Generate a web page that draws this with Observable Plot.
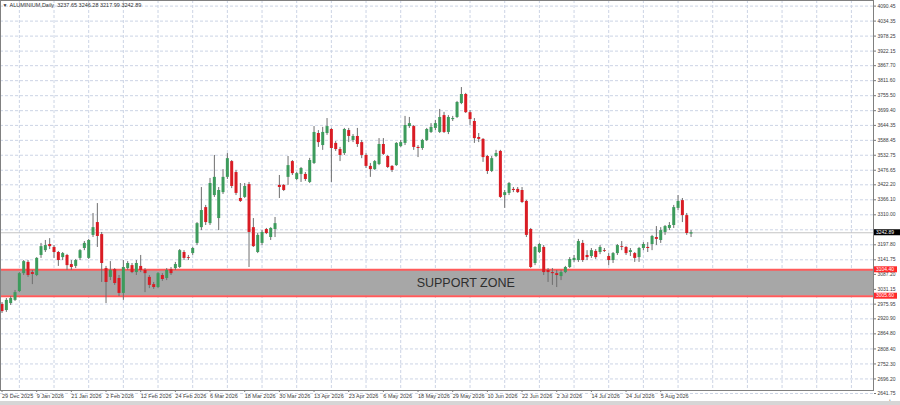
<!DOCTYPE html>
<html><head><meta charset="utf-8">
<script src="https://cdn.jsdelivr.net/npm/d3@7"></script>
<script src="https://cdn.jsdelivr.net/npm/@observablehq/plot@0.6"></script>
<style>body{margin:0;background:#fff;} #chart{width:900px;height:405px;overflow:hidden;position:relative}</style>
</head><body><div id="chart"></div>
<script>
const title = "ALUMINIUM,Daily  3237.65 3246.28 3217.99 3242.89";
const dateLabels = ["29 Dec 2025","9 Jan 2026","21 Jan 2026","2 Feb 2026","12 Feb 2026","24 Feb 2026","6 Mar 2026","18 Mar 2026","30 Mar 2026","13 Apr 2026","23 Apr 2026","6 May 2026","18 May 2026","29 May 2026","10 Jun 2026","22 Jun 2026","2 Jul 2026","14 Jul 2026","24 Jul 2026","5 Aug 2026"];
const dateTickBars = [0,8,16,24,32,40,48,56,64,72,80,88,96,104,112,120,128,136,144,152];
const gridBars = [4,12,20,28,36,44,52,60,68,76,84,92,100,108,116,124,132,140,148,156,164,172,180,188,196];
const yTicks = [4090.45,4034.35,3978.25,3922.15,3867.70,3811.60,3755.50,3699.40,3644.35,3588.45,3532.75,3476.65,3422.20,3366.10,3310.00,3253.85,3197.80,3141.75,3087.20,3031.15,2975.95,2920.90,2864.80,2808.40,2752.30,2696.20,2641.75];
const hiddenTick = 3253.85; // covered by the current-price box in the reference
const zoneTop = 3104.40;
const zoneBottom = 3005.60;
const lastPrice = 3242.89;
const zoneLabel = "SUPPORT ZONE";
const zoneLabelBar = 107;

const open = [
2975,2952,2978,2990,3023,3090,3132,3094,3083,3158,
3176,3199,3188,3169,3150,3158,3124,3117,3147,3184,
3147,3233,3281,3236,3109,3076,3105,3072,3016,3109,
3120,3094,3117,3102,3076,3049,3038,3083,3072,3105,
3109,3113,3169,3150,3165,3203,3262,3337,3277,3382,
3296,3393,3450,3509,3468,3371,3375,3423,3262,3169,
3203,3255,3225,3255,3420,3420,3450,3509,3442,3461,
3461,3431,3502,3614,3569,3614,3629,3577,3554,3539,
3625,3588,3603,3580,3532,3491,3479,3498,3573,3528,
3491,3494,3565,3577,3640,3640,3562,3558,3588,3618,
3633,3618,3681,3618,3666,3674,3726,3760,3692,3659,
3599,3592,3528,3472,3528,3547,3382,3390,3405,3405,
3401,3360,3255,3128,3169,3188,3102,3094,3090,3079,
3094,3113,3139,3139,3203,3158,3154,3173,3169,3176,
3154,3139,3165,3191,3188,3169,3165,3150,3184,3188,
3199,3225,3214,3244,3259,3270,3334,3363,3307,3238];
const high = [
2982,2997,3004,3027,3094,3139,3139,3102,3150,3203,
3214,3221,3195,3173,3169,3162,3139,3143,3180,3210,
3218,3315,3352,3244,3117,3135,3109,3083,3139,3135,
3128,3139,3158,3109,3083,3057,3094,3090,3109,3113,
3132,3180,3176,3158,3188,3281,3412,3345,3446,3532,
3412,3479,3539,3513,3476,3427,3427,3431,3296,3240,
3251,3259,3262,3300,3457,3423,3528,3513,3468,3487,
3468,3521,3640,3625,3637,3670,3633,3584,3562,3633,
3633,3610,3633,3588,3539,3502,3513,3595,3595,3532,
3494,3580,3588,3678,3674,3644,3569,3592,3633,3651,
3663,3704,3693,3681,3678,3734,3786,3764,3700,3670,
3614,3595,3532,3528,3551,3551,3401,3431,3412,3412,
3412,3364,3259,3191,3203,3195,3109,3109,3102,3102,
3117,3150,3158,3218,3214,3176,3184,3180,3195,3184,
3165,3169,3199,3210,3191,3184,3169,3188,3206,3206,
3233,3266,3262,3270,3281,3345,3382,3371,3315,3251];
const low = [
2941,2945,2971,2986,3019,3083,3076,3049,3079,3147,
3169,3180,3147,3117,3139,3102,3102,3109,3139,3176,
3143,3225,3188,3057,2978,3064,3046,3004,2990,3102,
3090,3083,3094,3019,3034,3031,3034,3061,3064,3083,
3102,3109,3139,3139,3158,3195,3251,3270,3270,3375,
3251,3386,3442,3408,3382,3356,3371,3113,3188,3165,
3195,3236,3214,3225,3371,3397,3420,3457,3438,3431,
3435,3427,3498,3562,3551,3607,3431,3547,3509,3532,
3580,3580,3562,3520,3483,3450,3476,3494,3532,3483,
3468,3491,3562,3569,3633,3551,3524,3551,3584,3614,
3625,3614,3614,3610,3659,3670,3722,3689,3644,3577,
3580,3506,3461,3468,3524,3371,3334,3382,3393,3390,
3352,3225,3109,3120,3165,3083,3057,3046,3038,3064,
3090,3109,3132,3132,3132,3139,3147,3143,3161,3169,
3120,3128,3158,3176,3158,3154,3132,3132,3176,3169,
3176,3195,3203,3233,3251,3259,3326,3281,3233,3225];
const close = [
2948,2990,2997,3019,3090,3135,3083,3087,3147,3191,
3195,3191,3169,3139,3165,3120,3113,3139,3176,3203,
3214,3262,3229,3128,3057,3102,3053,3016,3113,3128,
3094,3128,3102,3090,3046,3038,3090,3068,3102,3090,
3124,3176,3147,3147,3184,3277,3326,3281,3427,3450,
3401,3450,3520,3416,3390,3360,3416,3244,3191,3233,
3244,3240,3259,3277,3412,3401,3494,3464,3464,3483,
3442,3513,3618,3580,3618,3640,3558,3554,3532,3629,
3603,3603,3573,3532,3491,3479,3509,3573,3536,3487,
3476,3577,3580,3644,3651,3562,3558,3588,3629,3637,
3651,3674,3618,3674,3670,3730,3760,3692,3666,3595,
3592,3524,3472,3520,3539,3375,3393,3427,3401,3393,
3356,3233,3113,3188,3199,3094,3094,3090,3083,3094,
3113,3143,3147,3210,3139,3150,3176,3150,3188,3173,
3139,3165,3195,3188,3165,3176,3147,3184,3199,3184,
3229,3218,3251,3266,3270,3337,3360,3307,3240,3243];

const bars = open.map((o, i) => ({i, o, h: high[i], l: low[i], c: close[i], up: close[i] >= o}));
const xDomain = [-0.35, 201.1];
const yDomain = [2653, 4111.4];
const GREEN = "#3d9b5c", RED = "#d91c24";
const GRID = "#ccd4e5";

const chart = Plot.plot({
  width: 900, height: 405,
  marginLeft: 0, marginRight: 27, marginTop: 0, marginBottom: 15,
  style: {fontFamily: "'Liberation Sans', Arial, sans-serif", background: "#fff", overflow: "visible"},
  x: {domain: xDomain, axis: null},
  y: {domain: yDomain, axis: null},
  marks: [
    Plot.gridY(yTicks, {stroke: GRID, strokeOpacity: 1, strokeDasharray: "3,2"}),
    Plot.gridX(gridBars, {stroke: GRID, strokeOpacity: 1, strokeDasharray: "3,2"}),
    Plot.rect([{a: zoneBottom, b: zoneTop}], {x1: () => xDomain[0], x2: () => xDomain[1], y1: "a", y2: "b", fill: "#a7a7a7"}),
    Plot.ruleY([zoneTop, zoneBottom], {stroke: "#ff5a5a", strokeWidth: 2}),
    Plot.ruleY([lastPrice], {stroke: "#c4c4c4", strokeWidth: 1}),
    Plot.ruleX(bars, {x: "i", y1: "l", y2: "h", stroke: "#6e6e6e", strokeWidth: 1}),
    Plot.ruleX(bars, {x: "i", y1: "o", y2: "c", stroke: d => d.up ? GREEN : RED, strokeWidth: 3, strokeLinecap: "butt"}),
    Plot.text([zoneLabel], {x: () => zoneLabelBar, y: () => (zoneTop + zoneBottom) / 2, fontSize: 12.5, fill: "#2e2e2e", text: d => d}),
    Plot.axisY(yTicks, {anchor: "right", tickSize: 2, tickPadding: 2, fontSize: 5, fill: "#3a3a3a", stroke: "#777", tickFormat: d => d === hiddenTick ? "" : d.toFixed(2)}),
    Plot.axisX(dateTickBars, {anchor: "bottom", tickSize: 2, tickPadding: 1.5, fontSize: 5.5, fill: "#3a3a3a", stroke: "#777", textAnchor: "start", tickFormat: d => dateLabels[dateTickBars.indexOf(d)]}),
    Plot.frame({stroke: "#808080"}),
    Plot.text([title], {frameAnchor: "top-left", dx: 9, dy: 3, lineAnchor: "top", textAnchor: "start", fontSize: 5.5, fill: "#333", text: d => d}),
    Plot.text(["▼"], {frameAnchor: "top-left", dx: 2, dy: 3, lineAnchor: "top", textAnchor: "start", fontSize: 5, fill: "#333", text: d => d})
  ]
});

// price boxes on the right axis, positioned with the chart's own y scale
const ys = chart.scale("y");
const svg = d3.select(chart);
[{v: lastPrice, bg: "#000", w: 26}, {v: zoneTop, bg: "#ff2b2b", w: 23}, {v: zoneBottom, bg: "#ff2b2b", w: 23}].forEach(p => {
  const y = ys.apply(p.v);
  const g = svg.append("g");
  g.append("rect").attr("x", 874).attr("y", y - 3).attr("width", p.w).attr("height", 6).attr("fill", p.bg);
  g.append("text").attr("x", 876).attr("y", y).attr("dy", "0.35em").attr("text-anchor", "start")
    .attr("font-size", 5).attr("fill", "#fff").text(p.v.toFixed(2));
});
svg.append("rect").attr("x", 0).attr("y", 401).attr("width", 900).attr("height", 4).attr("fill", "#d6d6d6");
document.getElementById("chart").append(chart);
</script>
</body></html>
